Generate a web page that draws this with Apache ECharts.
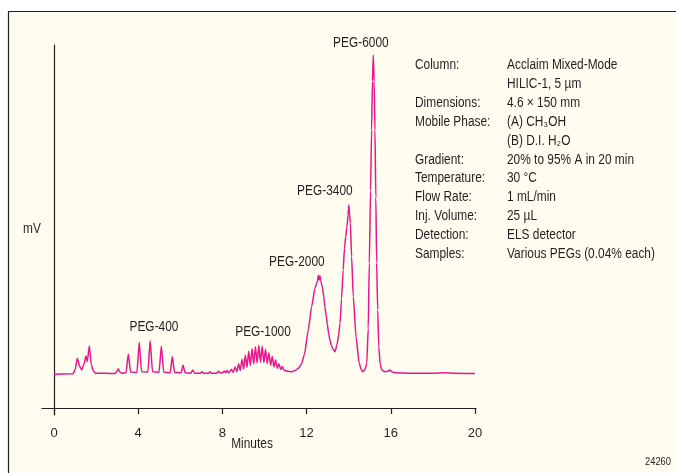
<!DOCTYPE html>
<html>
<head>
<meta charset="utf-8">
<script src="https://cdn.jsdelivr.net/npm/echarts@6/dist/echarts.min.js"></script>
<style>
  html, body { margin: 0; padding: 0; background: #fff; }
  #chart { width: 676px; height: 473px; }
</style>
</head>
<body>
<div id="chart"></div>
<script>
// chromatogram trace: [minutes, mV (arbitrary)]
const trace = [
  [0, 9.3], [0.9, 9.4],
  [1.0, 10.5], [1.11, 13.7], [1.22, 11.5], [1.31, 10.5], [1.42, 12.0], [1.52, 14.3], [1.58, 12.8],
  [1.68, 17.1], [1.77, 12.0], [1.87, 10.2], [1.97, 9.6],
  [2.9, 9.5], [2.98, 10.0], [3.05, 10.8], [3.13, 9.9], [3.22, 9.6],
  [3.42, 9.7], [3.53, 14.9], [3.64, 9.9],
  [3.94, 9.8], [4.05, 18.1], [4.16, 10.0],
  [4.46, 9.9], [4.57, 18.5], [4.68, 10.0],
  [4.99, 9.8], [5.10, 17.1], [5.21, 9.9],
  [5.52, 9.7], [5.62, 14.1], [5.73, 9.8],
  [6.04, 9.7], [6.13, 11.8], [6.23, 9.7],
  [6.51, 9.6], [6.59, 10.5], [6.68, 9.6],
  [6.95, 9.6], [7.02, 10.0], [7.1, 9.6],
  [7.35, 9.6], [7.41, 10.0], [7.48, 9.6],
  [7.74, 9.6], [7.81, 10.1], [7.88, 9.7],
  [8.02, 9.7], [8.09, 10.2], [8.16, 9.7],
  [8.22, 10.3], [8.32, 9.7], [8.42, 10.7], [8.51, 9.8],
  [8.60, 11.3], [8.69, 10.0], [8.77, 12.2], [8.85, 10.3],
  [8.93, 13.4], [9.01, 10.7], [9.09, 14.6], [9.17, 11.2],
  [9.25, 15.6], [9.33, 11.7], [9.41, 16.3], [9.49, 12.1],
  [9.57, 16.9], [9.65, 12.4], [9.73, 17.3], [9.81, 12.6],
  [9.89, 17.0], [9.97, 12.5], [10.05, 16.2], [10.13, 12.2],
  [10.21, 15.2], [10.29, 11.8], [10.37, 14.2], [10.45, 11.3],
  [10.53, 13.2], [10.61, 10.9], [10.69, 12.2], [10.77, 10.6],
  [10.85, 11.4], [10.93, 10.4],
  [11.1, 10.1], [11.3, 10.0], [11.45, 10.3], [11.6, 10.9], [11.75, 12.0],
  [11.9, 14.8], [12.08, 21.5], [12.24, 27.9], [12.4, 33.0], [12.47, 34.2], [12.52, 35.0],
  [12.56, 36.6], [12.6, 35.2], [12.64, 36.4], [12.68, 34.8], [12.72, 34.0], [12.76, 33.0],
  [12.82, 30.5], [12.87, 27.9], [12.93, 25.5], [12.98, 23.3], [13.05, 20.5], [13.11, 18.7],
  [13.18, 17.2], [13.24, 16.4], [13.35, 15.5], [13.45, 17.5], [13.52, 20.0], [13.59, 23.3],
  [13.66, 30.0], [13.74, 38.0], [13.8, 44.0], [13.86, 47.2], [13.92, 49.9], [13.97, 53.0],
  [14.01, 55.9], [14.04, 53.5], [14.08, 50.9], [14.14, 41.7], [14.22, 30.7], [14.35, 19.6],
  [14.5, 12.3], [14.6, 10.5], [14.67, 10.0], [14.78, 10.6], [14.86, 12.3], [14.93, 22.0],
  [14.98, 39.9], [15.04, 60.0], [15.09, 76.6], [15.13, 90.0], [15.17, 97.2], [15.21, 90.0],
  [15.25, 76.6], [15.29, 58.0], [15.33, 39.9], [15.38, 27.0], [15.43, 16.9], [15.5, 12.0],
  [15.57, 10.5], [15.72, 10.0], [15.85, 10.1], [15.96, 10.5], [16.05, 10.0], [16.2, 9.7],
  [17, 9.6], [18, 9.6], [18.6, 9.7], [19, 9.6], [20, 9.5]
]

// peak names and where their labels sit (minutes, mV)
const peakNames = ['PEG-400', 'PEG-1000', 'PEG-2000', 'PEG-3400', 'PEG-6000']
const peakLabelPos = [[4.75, 22.3], [9.93, 20.9], [11.54, 40.2], [12.87, 59.8], [14.58, 100.6]]

const xTicks = [0, 4, 8, 12, 16, 20]

// conditions block
const condLabels = ['Column:', '', 'Dimensions:', 'Mobile Phase:', '', 'Gradient:', 'Temperature:',
  'Flow Rate:', 'Inj. Volume:', 'Detection:', 'Samples:']
const condValues = ['Acclaim Mixed-Mode', 'HILIC-1, 5 µm', '4.6 × 150 mm', '(A) CH₃OH', '(B) D.I. H₂O',
  '20% to 95% A in 20 min', '30 °C', '1 mL/min', '25 µL', 'ELS detector', 'Various PEGs (0.04% each)']

const FONT = "'Liberation Sans', Arial, sans-serif"
const INK = '#231f20'
const PINK = '#e8178b'
const NARROW = 0.85 // squeeze to mimic the condensed face of the original

const chart = echarts.init(document.getElementById('chart'))

// condensed text helper
function txt(text, x, y, size, align) {
  return { type: 'text', x: x, y: y, scaleX: NARROW,
    style: { text: text, font: size + 'px ' + FONT, fill: INK, align: align || 'left', verticalAlign: 'middle' } }
}

const condText = []
condLabels.forEach((l, i) => {
  const y = 65.5 + i * 18.85
  if (l) condText.push(txt(l, 415, y, 14))
  condText.push(txt(condValues[i], 507, y, 14))
})

chart.setOption({
  animation: false,
  backgroundColor: '#fff',
  grid: { left: 42, right: 200, top: 45, bottom: 58 },
  xAxis: {
    type: 'value', min: -0.57, max: 20.05,
    axisLine: { onZero: true, lineStyle: { color: INK, width: 1.2 } },
    axisTick: { show: true, length: 6, customValues: xTicks, lineStyle: { color: INK, width: 1.2 } },
    axisLabel: { customValues: xTicks, margin: 12, fontSize: 13, color: INK, fontFamily: FONT },
    splitLine: { show: false }
  },
  yAxis: {
    type: 'value', min: -1.93, max: 100,
    axisLine: { show: true, onZero: true, lineStyle: { color: INK, width: 1.2 } },
    axisTick: { show: false },
    axisLabel: { show: false },
    splitLine: { show: false }
  },
  series: [
    {
      type: 'line', data: trace, showSymbol: false, smooth: 0.2, smoothMonotone: 'x',
      lineStyle: { color: PINK, width: 1.5 }, silent: true
    }
  ]
})

// peak labels placed through the axes' own scales
const peakText = peakLabelPos.map((p, i) => {
  const px = chart.convertToPixel({ gridIndex: 0 }, p)
  return txt(peakNames[i], px[0], px[1], 14, 'center')
})

chart.setOption({
  graphic: [
    { type: 'rect', z: -10, shape: { x: 8.5, y: 11.5, width: 700, height: 500 },
      style: { fill: '#fffdef', stroke: INK, lineWidth: 1.2 } },
    txt('mV', 23, 229, 14),
    txt('Minutes', 252, 444, 14, 'center'),
    txt('24260', 671, 462, 11, 'right'),
    ...condText,
    ...peakText
  ]
})
</script>
</body>
</html>
